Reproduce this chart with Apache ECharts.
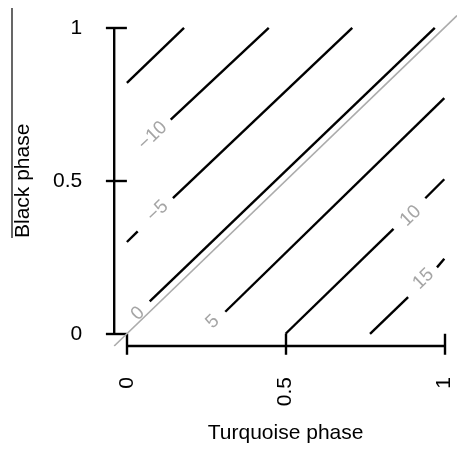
<!DOCTYPE html>
<html lang="en">
<head>
    <meta charset="UTF-8">
    <title>Phase contours</title>
    <script src="https://cdn.jsdelivr.net/npm/echarts@6/dist/echarts.min.js"></script>
    <style>
        body{
            margin: 0;
            background: #fff;
        }
        #chart{
            width: 457px;
            height: 449px;
        }
    </style>
</head>
<body>
    <div id="chart"></div>
<script>
    // contour levels and the pieces of each line (x, y in phase units)
    var levels = [-15, -10, -5, 0, 5, 10, 15];
    var segments = [
        [[[0, 0.82], [0.18, 1.0]]],
        [[[0.138, 0.70], [0.447, 1.0]]],
        [[[0, 0.30], [0.034, 0.335]], [[0.145, 0.443], [0.71, 1.0]]],
        [[[0.072, 0.106], [0.97, 1.0]]],
        [[[0.31, 0.072], [1.0, 0.77]]],
        [[[0.5, 0], [0.84, 0.343]], [[0.94, 0.443], [1.0, 0.505]]],
        [[[0.766, 0], [0.886, 0.12]], [[0.977, 0.217], [1.0, 0.245]]]
    ];
    // where the level labels sit (null = not shown)
    var labelPos = [null, [0.081, 0.647], [0.097, 0.401], [0.035, 0.066], [0.27, 0.039], [0.894, 0.385], [0.934, 0.179]];
    var diagonal = [[-0.04, -0.04], [1.04, 1.04]];
    var tickValues = [0, 0.5, 1];

    var font = 'Liberation Sans, Arial, Helvetica, sans-serif';
    var chart = echarts.init(document.getElementById('chart'));

    var series = [];
    // grey y = x line
    series.push({
        type: 'line',
        data: diagonal,
        showSymbol: false,
        lineStyle: {color: '#acacac', width: 1.7},
        z: 1
    });
    segments.forEach(function(pieces){
        pieces.forEach(function(p){
            series.push({
                type: 'line',
                data: p,
                showSymbol: false,
                lineStyle: {color: '#000', width: 2.4},
                z: 2
            });
        });
    });
    var labelData = [];
    levels.forEach(function(lv, i){
        if(labelPos[i]){
            labelData.push({value: labelPos[i], name: (lv < 0 ? '\u2212' + (-lv) : '' + lv)});
        }
    });
    series.push({
        type: 'scatter',
        data: labelData,
        symbolSize: 0,
        label: {
            show: true,
            position: 'inside',
            rotate: 44,
            formatter: function(p){ return p.name; },
            color: '#8e8e8e',
            fontSize: 19,
            fontFamily: font
        },
        z: 3
    });
    // R style axis lines, only spanning 0..1
    series.push({
        type: 'line',
        data: [[0, -0.04], [1, -0.04]],
        showSymbol: false,
        clip: false,
        lineStyle: {color: '#000', width: 2.4}
    });
    series.push({
        type: 'line',
        data: [[-0.04, 0], [-0.04, 1]],
        showSymbol: false,
        clip: false,
        lineStyle: {color: '#000', width: 2.4}
    });

    chart.setOption({
        animation: false,
        grid: {left: 114.2, top: 15.6, width: 345.6, height: 333.8},
        xAxis: {
            type: 'value',
            min: -0.04,
            max: 1.04,
            name: 'Turquoise phase',
            nameLocation: 'middle',
            nameGap: 77,
            nameTextStyle: {fontSize: 21, color: '#000', fontFamily: font},
            axisLine: {show: false},
            splitLine: {show: false},
            axisTick: {show: true, customValues: tickValues, length: 21, lineStyle: {color: '#000', width: 2.4}},
            axisLabel: {customValues: tickValues, rotate: 90, margin: 31, fontSize: 21, color: '#000', fontFamily: font}
        },
        yAxis: {
            type: 'value',
            min: -0.04,
            max: 1.04,
            name: 'Black phase',
            nameLocation: 'middle',
            nameGap: 80,
            nameTextStyle: {fontSize: 21, color: '#000', fontFamily: font},
            axisLine: {show: false},
            splitLine: {show: false},
            axisTick: {show: true, customValues: tickValues, length: 21, lineStyle: {color: '#000', width: 2.4}},
            axisLabel: {customValues: tickValues, margin: 32, fontSize: 21, color: '#000', fontFamily: font}
        },
        graphic: [{
            // border left over from the neighbouring panel
            type: 'line',
            shape: {x1: 12, y1: 8, x2: 12, y2: 238},
            style: {stroke: '#000', lineWidth: 1.2}
        }],
        series: series
    });
</script>
</body>
</html>
